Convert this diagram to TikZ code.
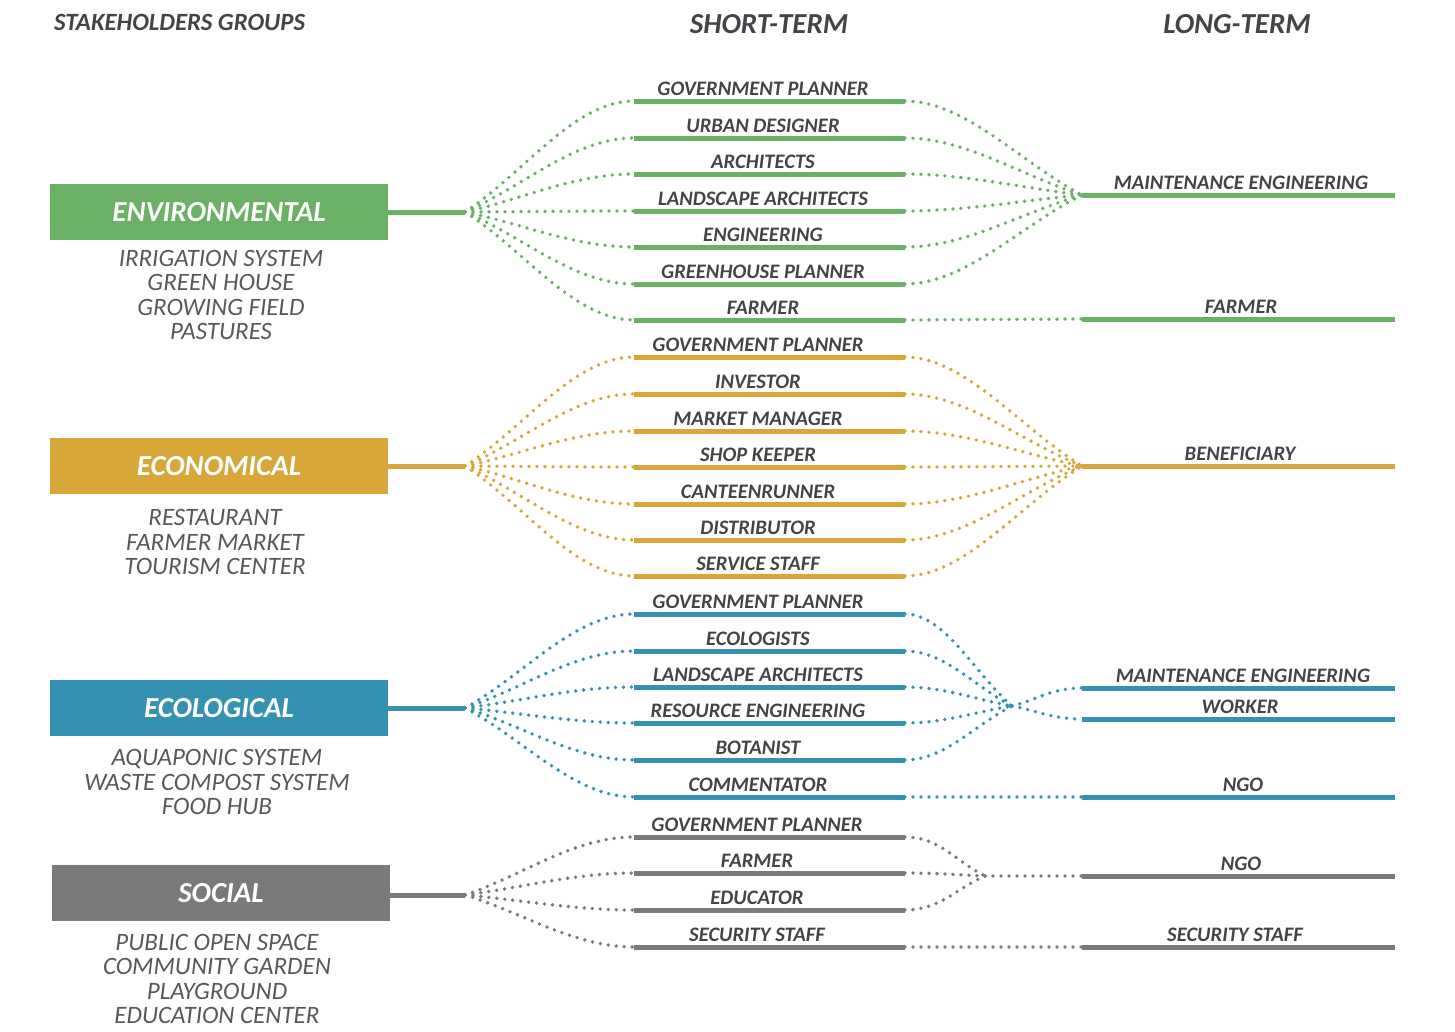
\documentclass[tikz,border=0pt]{standalone}
\usepackage{fontspec}
\setmainfont{Carlito}
\usetikzlibrary{calc}

\definecolor{envgreen}{RGB}{106,177,101}
\definecolor{econgold}{RGB}{216,167,58}
\definecolor{ecolteal}{RGB}{53,145,178}
\definecolor{socgrey}{RGB}{122,122,122}
\definecolor{txtgrey}{RGB}{68,68,72}
\definecolor{itemgrey}{RGB}{88,88,88}

\tikzset{
  grpbox/.style={minimum width=338pt, minimum height=56pt, inner sep=0pt, text=white,
    font=\fontsize{29}{32}\selectfont\bfseries\itshape},
  items/.style={align=center, text=itemgrey, inner sep=0pt,
    font=\fontsize{25}{24.5}\selectfont\itshape},
  head/.style={text=txtgrey, inner sep=0pt, font=\fontsize{29}{31}\selectfont\bfseries\itshape},
  role/.style={anchor=base, text=txtgrey, inner sep=0pt,
    font=\fontsize{20.6}{22}\selectfont\bfseries\itshape},
  rolebar/.style={line width=5pt},
  dotlink/.style={line width=3.8pt, line cap=round, dash pattern=on 0pt off 8pt},
}

\begin{document}
\begin{tikzpicture}[x=1pt,y=-1pt]
\useasboundingbox (0,0) rectangle (1455,1031);

% column heads
\node[head, anchor=west, font=\fontsize{24.8}{26}\selectfont\bfseries\itshape] (hgroups) at (54,22) {STAKEHOLDERS GROUPS};
\node[head] (hshort) at (769,24) {SHORT-TERM};
\node[head] (hlong) at (1237,24) {LONG-TERM};

% ENVIRONMENTAL
\node[grpbox, fill=envgreen] (env) at (219,212) {ENVIRONMENTAL};
\node[items] (envitems) at (221,295) {IRRIGATION SYSTEM\\GREEN HOUSE\\GROWING FIELD\\PASTURES};
\coordinate (envO) at (465,212);
\draw[rolebar, envgreen] (env.east) -- (envO);
\foreach \i/\y/\name in {1/101/GOVERNMENT PLANNER, 2/138/URBAN DESIGNER, 3/174/ARCHITECTS,
    4/211/LANDSCAPE ARCHITECTS, 5/247/ENGINEERING, 6/284/GREENHOUSE PLANNER, 7/320/FARMER} {
  \coordinate (envl\i) at (634,\y);
  \coordinate (envr\i) at (905,\y);
  \draw[rolebar, envgreen] (envl\i) -- (envr\i);
  \node[role] (envlab\i) at (763,\y-6) {\name};
  \draw[dotlink, envgreen] (envO) .. controls ($(envO)!0.35!(envl\i)$) and ($(envl\i)+(-60,0)$) .. (envl\i);
}
\coordinate (envml) at (1082,195);
\coordinate (envmr) at (1395,195);
\coordinate (envfl) at (1082,319);
\coordinate (envfr) at (1395,319);
\draw[rolebar, envgreen] (envml) -- (envmr);
\draw[rolebar, envgreen] (envfl) -- (envfr);
\node[role] (envmlab) at (1241,189) {MAINTENANCE ENGINEERING};
\node[role] (envflab) at (1241,313) {FARMER};
\foreach \i in {1,...,6}
  \draw[dotlink, envgreen] (envr\i) .. controls ($(envr\i)+(60,0)$) and ($(envml)!0.35!(envr\i)$) .. (envml);
\draw[dotlink, envgreen] (envr7) -- (envfl);

% ECONOMICAL
\node[grpbox, fill=econgold] (econ) at (219,466) {ECONOMICAL};
\node[items] (econitems) at (215,542) {RESTAURANT\\FARMER MARKET\\TOURISM CENTER};
\coordinate (econO) at (465,466);
\draw[rolebar, econgold] (econ.east) -- (econO);
\foreach \i/\y/\name in {1/357/GOVERNMENT PLANNER, 2/394/INVESTOR, 3/431/MARKET MANAGER,
    4/467/SHOP KEEPER, 5/504/CANTEENRUNNER, 6/540/DISTRIBUTOR, 7/576/SERVICE STAFF} {
  \coordinate (econl\i) at (634,\y);
  \coordinate (econr\i) at (905,\y);
  \draw[rolebar, econgold] (econl\i) -- (econr\i);
  \node[role] (econlab\i) at (758,\y-6) {\name};
  \draw[dotlink, econgold] (econO) .. controls ($(econO)!0.35!(econl\i)$) and ($(econl\i)+(-60,0)$) .. (econl\i);
}
\coordinate (econbl) at (1082,466);
\coordinate (econbr) at (1395,466);
\draw[rolebar, econgold] (econbl) -- (econbr);
\node[role] (econblab) at (1240,460) {BENEFICIARY};
\foreach \i in {1,...,7}
  \draw[dotlink, econgold] (econr\i) .. controls ($(econr\i)+(60,0)$) and ($(econbl)!0.35!(econr\i)$) .. (econbl);

% ECOLOGICAL
\node[grpbox, fill=ecolteal] (ecol) at (219,708) {ECOLOGICAL};
\node[items] (ecolitems) at (217,782) {AQUAPONIC SYSTEM\\WASTE COMPOST SYSTEM\\FOOD HUB};
\coordinate (ecolO) at (465,708);
\draw[rolebar, ecolteal] (ecol.east) -- (ecolO);
\foreach \i/\y/\name in {1/614/GOVERNMENT PLANNER, 2/651/ECOLOGISTS, 3/687/LANDSCAPE ARCHITECTS,
    4/723/RESOURCE ENGINEERING, 5/760/BOTANIST, 6/797/COMMENTATOR} {
  \coordinate (ecoll\i) at (634,\y);
  \coordinate (ecolr\i) at (905,\y);
  \draw[rolebar, ecolteal] (ecoll\i) -- (ecolr\i);
  \node[role] (ecollab\i) at (758,\y-6) {\name};
  \draw[dotlink, ecolteal] (ecolO) .. controls ($(ecolO)!0.35!(ecoll\i)$) and ($(ecoll\i)+(-60,0)$) .. (ecoll\i);
}
\coordinate (ecolC) at (1012,706);
\coordinate (ecolml) at (1082,688);
\coordinate (ecolmr) at (1395,688);
\coordinate (ecolwl) at (1082,719);
\coordinate (ecolwr) at (1395,719);
\coordinate (ecolnl) at (1082,797);
\coordinate (ecolnr) at (1395,797);
\draw[rolebar, ecolteal] (ecolml) -- (ecolmr);
\draw[rolebar, ecolteal] (ecolwl) -- (ecolwr);
\draw[rolebar, ecolteal] (ecolnl) -- (ecolnr);
\node[role] (ecolmlab) at (1243,682) {MAINTENANCE ENGINEERING};
\node[role] (ecolwlab) at (1240,713) {WORKER};
\node[role] (ecolnlab) at (1243,791) {NGO};
\foreach \i in {1,...,5}
  \draw[dotlink, ecolteal] (ecolr\i) .. controls ($(ecolr\i)+(40,0)$) and ($(ecolC)!0.35!(ecolr\i)$) .. (ecolC);
\draw[dotlink, ecolteal] (ecolC) .. controls ($(ecolC)!0.35!(ecolml)$) and ($(ecolml)+(-30,0)$) .. (ecolml);
\draw[dotlink, ecolteal] (ecolC) .. controls ($(ecolC)!0.35!(ecolwl)$) and ($(ecolwl)+(-30,0)$) .. (ecolwl);
\draw[dotlink, ecolteal] (ecolr6) -- (ecolnl);

% SOCIAL
\node[grpbox, fill=socgrey] (soc) at (221,893) {SOCIAL};
\node[items] (socitems) at (217,979) {PUBLIC OPEN SPACE\\COMMUNITY GARDEN\\PLAYGROUND\\EDUCATION CENTER};
\coordinate (socO) at (465,895);
\draw[rolebar, socgrey] (soc.east |- socO) -- (socO);
\foreach \i/\y/\name in {1/837/GOVERNMENT PLANNER, 2/873/FARMER, 3/910/EDUCATOR, 4/947/SECURITY STAFF} {
  \coordinate (socl\i) at (634,\y);
  \coordinate (socr\i) at (905,\y);
  \draw[rolebar, socgrey] (socl\i) -- (socr\i);
  \node[role] (soclab\i) at (757,\y-6) {\name};
  \draw[dotlink, socgrey] (socO) .. controls ($(socO)!0.35!(socl\i)$) and ($(socl\i)+(-60,0)$) .. (socl\i);
}
\coordinate (socC) at (985,876);
\coordinate (socnl) at (1082,876);
\coordinate (socnr) at (1395,876);
\coordinate (socsl) at (1082,947);
\coordinate (socsr) at (1395,947);
\draw[rolebar, socgrey] (socnl) -- (socnr);
\draw[rolebar, socgrey] (socsl) -- (socsr);
\node[role] (socnlab) at (1241,870) {NGO};
\node[role] (socslab) at (1235,941) {SECURITY STAFF};
\foreach \i in {1,...,3}
  \draw[dotlink, socgrey] (socr\i) .. controls ($(socr\i)+(35,0)$) and ($(socC)!0.35!(socr\i)$) .. (socC);
\draw[dotlink, socgrey] (socC) -- (socnl);
\draw[dotlink, socgrey] (socr4) -- (socsl);
\end{tikzpicture}
\end{document}
